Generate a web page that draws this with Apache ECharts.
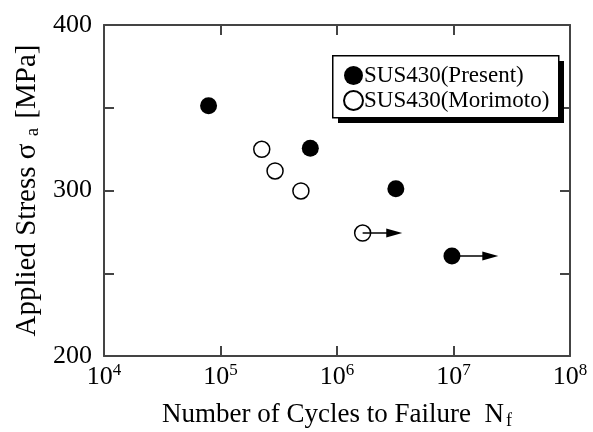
<!DOCTYPE html>
<html>
<head>
<meta charset="utf-8">
<script src="https://cdn.jsdelivr.net/npm/echarts@6/dist/echarts.min.js"></script>
<style>
  html, body { margin: 0; padding: 0; background: #fff; }
  #chart { width: 593px; height: 432px; }
</style>
</head>
<body>
<div id="chart"></div>
<script>
// cycles to failure (x) and stress amplitude in MPa (y)
const presentCycles = [7.9e4, 5.9e5, 3.2e6, 9.7e6];
const presentStress = [351.2, 325.5, 301, 260.4];
const morimotoCycles = [2.26e5, 2.94e5, 4.9e5, 1.66e6];
const morimotoStress = [324.9, 311.8, 299.7, 274.3];
// run-outs: [start cycles, arrow end cycles, stress]
const presentRunout = [9.7e6, 2.07e7, 260.4];
const morimotoRunout = [1.66e6, 3.1e6, 274.3];
const yTicks = [200, 300, 400];

const serif = '"Liberation Serif", "Times New Roman", serif';
const axisColor = '#444';

const pair = (xs, ys) => xs.map((x, i) => [x, ys[i]]);

const arrow = (r) => ({
  silent: true,
  symbol: ['none', 'triangle'],
  symbolSize: [9, 16],
  lineStyle: { color: '#000', width: 1.5, type: 'solid' },
  itemStyle: { color: '#000' },
  label: { show: false },
  emphasis: { disabled: true },
  animation: false,
  data: [[{ coord: [r[0], r[2]] }, { coord: [r[1], r[2]] }]]
});

const frameAxis = {
  axisLine: { show: true, onZero: false, lineStyle: { color: axisColor, width: 2 } },
  axisTick: { show: true, inside: true, length: 10, lineStyle: { color: axisColor, width: 2 } },
  splitLine: { show: false }
};

const xBase = {
  type: 'log',
  logBase: 10,
  min: 1e4,
  max: 1e8,
  splitNumber: 4
};
const yBase = {
  type: 'value',
  min: 200,
  max: 400,
  interval: 50
};

const chart = echarts.init(document.getElementById('chart'));
chart.setOption({
  animation: false,
  backgroundColor: '#fff',
  grid: { left: 104, right: 23, top: 25, bottom: 76, containLabel: false, outerBoundsMode: 'none' },
  // legend frame with its drop shadow
  graphic: [
    { type: 'rect', left: 338, top: 61, z: 10, silent: true,
      shape: { width: 226, height: 62 }, style: { fill: '#000' } },
    { type: 'rect', left: 332, top: 55, z: 11, silent: true,
      shape: { width: 226, height: 62 }, style: { fill: '#fff', stroke: '#000', lineWidth: 1.5 } }
  ],
  legend: {
    orient: 'vertical',
    left: 343,
    top: 64,
    padding: 0,
    itemGap: 2,
    itemWidth: 19,
    itemHeight: 19,
    z: 20,
    textStyle: { fontFamily: serif, fontSize: 23, lineHeight: 22, color: '#000', padding: [0, 0, 0, -4] },
    data: ['SUS430(Present)', 'SUS430(Morimoto)']
  },
  xAxis: [
    Object.assign({}, xBase, frameAxis, {
      position: 'bottom',
      name: 'Number of Cycles to Failure  N{sub|f}',
      nameLocation: 'middle',
      nameGap: 44,
      nameTextStyle: {
        fontFamily: serif, fontSize: 27, color: '#000',
        rich: { sub: { fontFamily: serif, fontSize: 18, color: '#000', verticalAlign: 'bottom', padding: [12, 0, 0, 2] } }
      },
      axisLabel: {
        margin: 6,
        fontFamily: serif,
        color: '#000',
        formatter: v => '{b|10}{e|' + Math.round(Math.log10(v)) + '}',
        rich: {
          b: { fontFamily: serif, fontSize: 26, color: '#000', lineHeight: 28, verticalAlign: 'bottom' },
          e: { fontFamily: serif, fontSize: 17, color: '#000', verticalAlign: 'top', padding: [0, 0, 10, 0] }
        }
      }
    }),
    Object.assign({}, xBase, frameAxis, {
      position: 'top',
      axisLabel: { show: false }
    })
  ],
  yAxis: [
    Object.assign({}, yBase, frameAxis, {
      position: 'left',
      name: 'Applied Stress σ {sub|a} [MPa]',
      nameLocation: 'middle',
      nameGap: 60,
      nameRotate: 90,
      nameTextStyle: {
        fontFamily: serif, fontSize: 29, color: '#000',
        rich: { sub: { fontFamily: serif, fontSize: 19, color: '#000', verticalAlign: 'bottom', padding: [10, 2, 0, 0] } }
      },
      axisLabel: {
        margin: 12,
        fontFamily: serif,
        fontSize: 26,
        color: '#000',
        formatter: v => (yTicks.indexOf(v) >= 0 ? String(v) : '')
      }
    }),
    Object.assign({}, yBase, frameAxis, {
      position: 'right',
      axisLabel: { show: false }
    })
  ],
  series: [
    {
      name: 'SUS430(Present)',
      type: 'scatter',
      symbol: 'circle',
      symbolSize: 17,
      itemStyle: { color: '#000', opacity: 1 },
      data: pair(presentCycles, presentStress),
      markLine: arrow(presentRunout),
      z: 3
    },
    {
      name: 'SUS430(Morimoto)',
      type: 'scatter',
      symbol: 'circle',
      symbolSize: 16,
      itemStyle: { color: '#fff', borderColor: '#000', borderWidth: 1.5, opacity: 1 },
      data: pair(morimotoCycles, morimotoStress),
      markLine: arrow(morimotoRunout),
      z: 3
    }
  ]
});
</script>
</body>
</html>
